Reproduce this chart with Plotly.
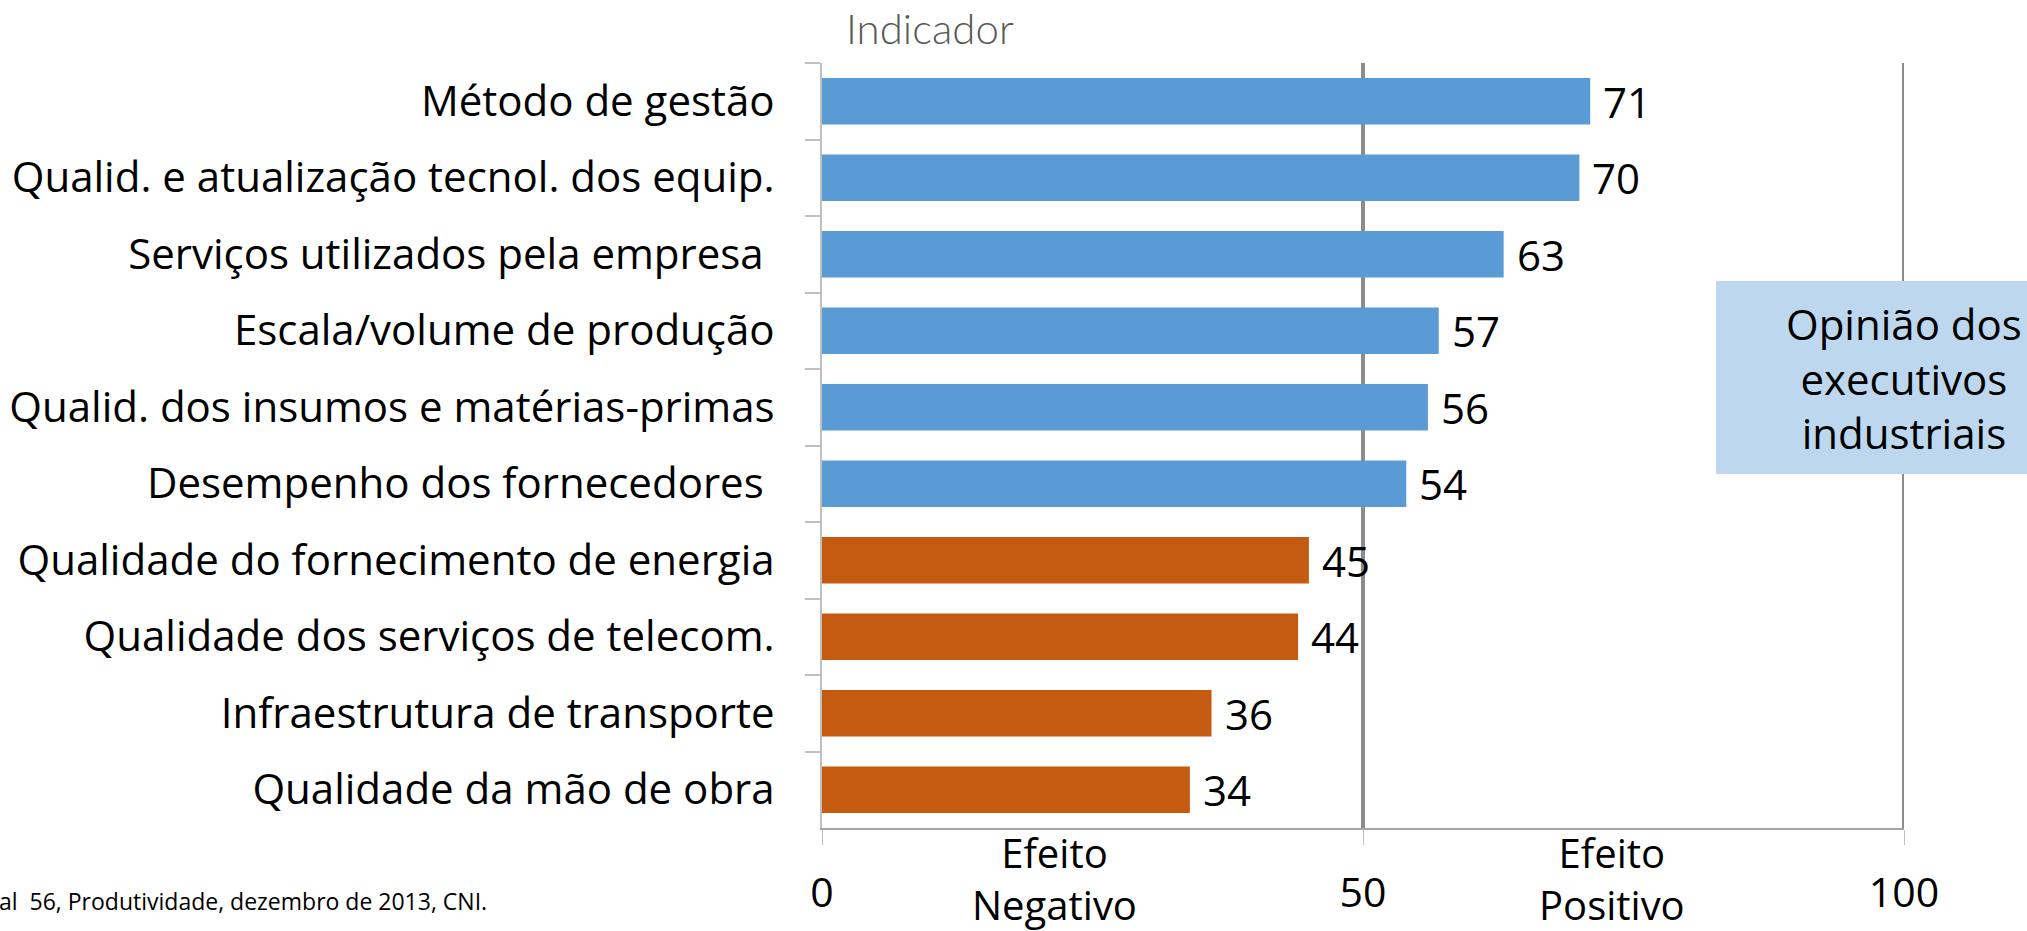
import plotly.graph_objects as go

categories = [
    'Método de gestão',
    'Qualid. e atualização tecnol. dos equip.',
    'Serviços utilizados pela empresa ',
    'Escala/volume de produção',
    'Qualid. dos insumos e matérias-primas',
    'Desempenho dos fornecedores ',
    'Qualidade do fornecimento de energia',
    'Qualidade dos serviços de telecom.',
    'Infraestrutura de transporte',
    'Qualidade da mão de obra',
]
values = [71, 70, 63, 57, 56, 54, 45, 44, 36, 34]
x_ticks = [0, 50, 100]

BLUE = '#5B9BD5'
ORANGE = '#C55A11'
FONT = 'Open Sans'

W, H = 2027, 931
L, R, T, B = 822, 1904, 63, 828


def px(x):
    return (x - L) / (R - L)


def py(y):
    return (B - y) / (B - T)


colors = [BLUE if v >= 50 else ORANGE for v in values]

fig = go.Figure()
fig.add_trace(go.Bar(
    x=values,
    y=categories,
    orientation='h',
    marker=dict(color=colors, line=dict(width=0)),
    hoverinfo='x+y',
))

# value labels just past the bar ends
for cat, v in zip(categories, values):
    fig.add_annotation(
        x=v, y=cat, text=str(v), showarrow=False,
        xanchor='left', xshift=11,
        font=dict(family=FONT, size=42, color='black'),
    )

# reference lines at 50 and 100
for xv in (50, 100):
    fig.add_shape(type='line', xref='x', yref='paper', x0=xv, x1=xv, y0=0, y1=1,
                  line=dict(color='#8C8C8C', width=4), layer='below')

# side box
fig.add_shape(type='rect', xref='paper', yref='paper',
              x0=px(1716), x1=px(2040), y0=py(474), y1=py(281),
              fillcolor='#BDD7EE', line=dict(width=0), layer='above')
fig.add_annotation(
    xref='paper', yref='paper', x=px(1904), y=py(378),
    text='Opinião dos<br>executivos<br>industriais', showarrow=False,
    align='center', xanchor='center', yanchor='middle',
    font=dict(family=FONT, size=42, color='black'),
)

# effect captions under the axis
for xv, txt in ((21.5, 'Efeito<br>Negativo'), (73, 'Efeito<br>Positivo')):
    fig.add_annotation(
        x=xv, xref='x', yref='paper', y=py(878), text=txt, showarrow=False,
        align='center', xanchor='center', yanchor='middle',
        font=dict(family=FONT, size=40, color='black'),
    )

fig.add_annotation(
    xref='paper', yref='paper', x=px(844), y=py(28), text='Indicador',
    showarrow=False, xanchor='left', yanchor='middle',
    font=dict(family='Lato', size=42, color='#595959', weight=300),
)

fig.add_annotation(
    xref='paper', yref='paper', x=px(-3), y=py(901),
    text='al  56, Produtividade, dezembro de 2013, CNI.', showarrow=False,
    xanchor='left', yanchor='middle',
    font=dict(family=FONT, size=23, color='black'),
)

fig.update_layout(
    width=W, height=H,
    margin=dict(l=L, r=W - R, t=T, b=H - B),
    plot_bgcolor='white', paper_bgcolor='white',
    bargap=0.39,
    showlegend=False,
    xaxis=dict(
        range=[0, 100], tickvals=x_ticks, ticktext=[str(t) for t in x_ticks],
        automargin=False,
        showgrid=False, zeroline=False,
        showline=True, linecolor='#A6A6A6', linewidth=2,
        ticks='outside', ticklen=15, tickcolor='#BFBFBF', tickwidth=1,
        ticklabelstandoff=13,
        tickfont=dict(family=FONT, size=41, color='black'),
    ),
    yaxis=dict(
        autorange='reversed', automargin=False,
        showgrid=False, zeroline=False,
        showline=True, linecolor='#BFBFBF', linewidth=2,
        ticks='outside', tickson='boundaries', ticklen=15,
        tickcolor='#BFBFBF', tickwidth=2,
        ticklabelstandoff=37,
        tickfont=dict(family=FONT, size=42, color='black'),
    ),
)

fig.write_html('out.html', config={'displayModeBar': False},
               post_script="document.body.style.margin='0';")
